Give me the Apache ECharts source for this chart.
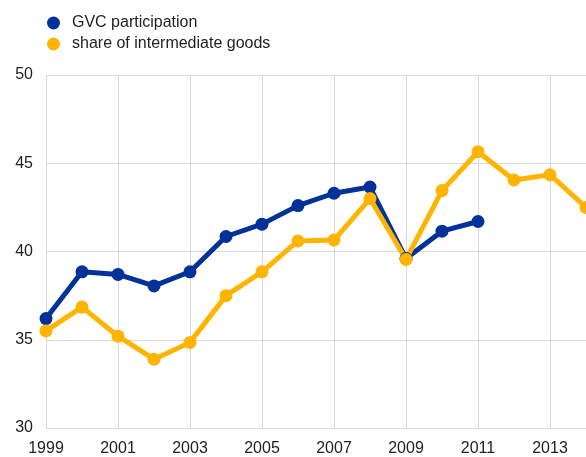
<!DOCTYPE html>
<html>
<head>
<meta charset="utf-8">
<script src="https://cdn.jsdelivr.net/npm/echarts@6/dist/echarts.min.js"></script>
<style>
html, body { margin: 0; padding: 0; background: #fff; }
#chart { width: 586px; height: 457px; }
</style>
</head>
<body>
<div id="chart"></div>
<script>
var years = ['1999','2000','2001','2002','2003','2004','2005','2006','2007','2008','2009','2010','2011','2012','2013','2014'];
var gvcParticipation = [36.2, 38.85, 38.7, 38.05, 38.85, 40.85, 41.55, 42.6, 43.3, 43.65, 39.6, 41.15, 41.7, null, null, null];
var intermediateShare = [35.5, 36.85, 35.2, 33.9, 34.85, 37.5, 38.85, 40.6, 40.65, 43.0, 39.55, 43.45, 45.65, 44.05, 44.35, 42.5];
var yTicks = [30, 35, 40, 45, 50];

var myChart = echarts.init(document.getElementById('chart'));

var option = {
	animation: false,
	textStyle: { fontFamily: 'Liberation Sans, Arial, sans-serif' },
	legend: {
		orient: 'vertical',
		left: 42,
		top: 10,
		itemWidth: 27,
		itemHeight: 13,
		itemGap: 5,
		icon: 'circle',
		symbolKeepAspect: true,
		textStyle: { fontSize: 16, color: '#222' },
		data: ['GVC participation', 'share of intermediate goods']
	},
	grid: {
		left: 46,
		right: 0,
		top: 75,
		bottom: 27,
		containLabel: false
	},
	xAxis: {
		type: 'category',
		boundaryGap: false,
		data: years,
		axisLine: { show: true, lineStyle: { color: '#d9d9d9', width: 1 } },
		axisTick: { show: false },
		axisLabel: { interval: 1, fontSize: 16, color: '#222', margin: 13 },
		splitLine: { show: true, interval: 1, lineStyle: { color: '#d9d9d9', width: 1 } }
	},
	yAxis: {
		type: 'value',
		min: yTicks[0],
		max: yTicks[yTicks.length - 1],
		interval: 5,
		axisLine: { show: true, lineStyle: { color: '#d9d9d9', width: 1 } },
		axisTick: { show: false },
		axisLabel: { fontSize: 16, color: '#222', margin: 13 },
		splitLine: { show: true, lineStyle: { color: '#d9d9d9', width: 1 } }
	},
	series: [
		{
			name: 'GVC participation',
			type: 'line',
			data: gvcParticipation,
			symbol: 'circle',
			symbolSize: 13,
			lineStyle: { width: 5, color: '#003299' },
			itemStyle: { color: '#003299' }
		},
		{
			name: 'share of intermediate goods',
			type: 'line',
			data: intermediateShare,
			symbol: 'circle',
			symbolSize: 13,
			lineStyle: { width: 5, color: '#ffb400' },
			itemStyle: { color: '#ffb400' }
		}
	]
};
myChart.setOption(option);
</script>
</body>
</html>
